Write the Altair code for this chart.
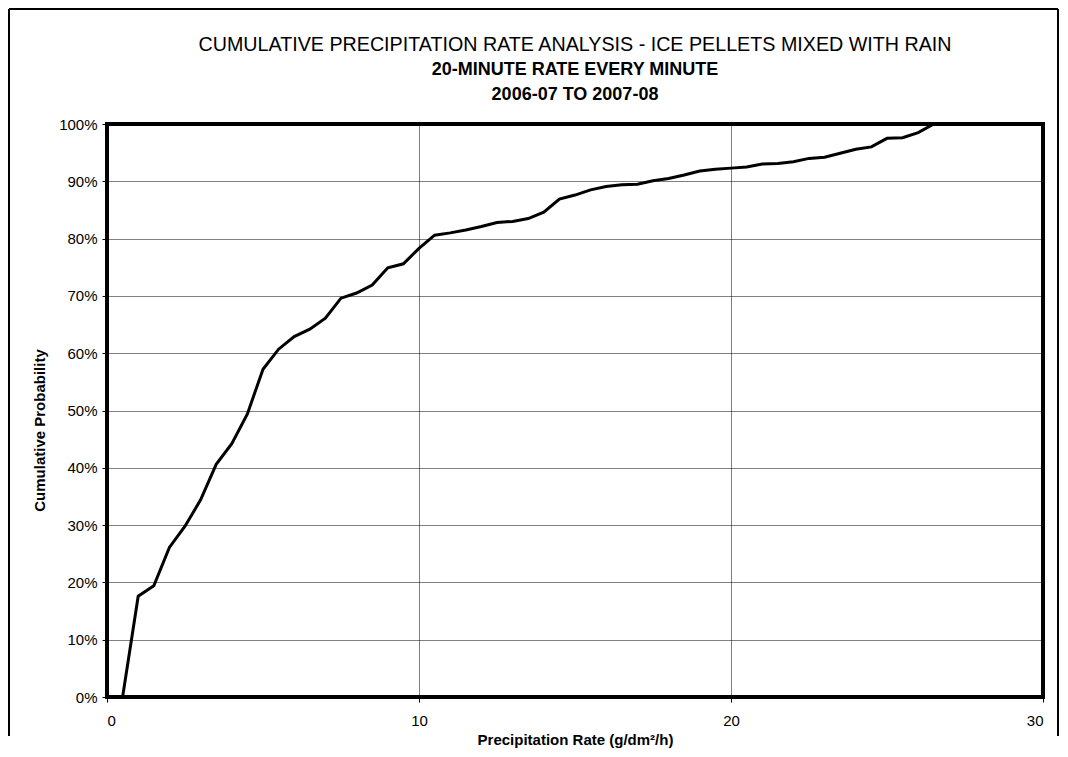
import altair as alt
import pandas as pd

# Precipitation rate (g/dm²/h)
rate = [0.5, 1.0, 1.5, 2.0, 2.5, 3.0, 3.5, 4.0, 4.5, 5.0,
        5.5, 6.0, 6.5, 7.0, 7.5, 8.0, 8.5, 9.0, 9.5, 10.0,
        10.5, 11.0, 11.5, 12.0, 12.5, 13.0, 13.5, 14.0, 14.5, 15.0,
        15.5, 16.0, 16.5, 17.0, 17.5, 18.0, 18.5, 19.0, 19.5, 20.0,
        20.5, 21.0, 21.5, 22.0, 22.5, 23.0, 23.5, 24.0, 24.5, 25.0,
        25.5, 26.0, 26.5]
# Cumulative probability (%)
prob = [0.0, 17.6, 19.4, 26.1, 29.8, 34.4, 40.6, 44.2, 49.4, 57.2,
        60.7, 62.9, 64.2, 66.1, 69.6, 70.5, 71.9, 74.9, 75.6, 78.3,
        80.6, 81.0, 81.5, 82.1, 82.8, 83.0, 83.5, 84.6, 86.9, 87.6,
        88.5, 89.1, 89.4, 89.5, 90.1, 90.5, 91.1, 91.8, 92.1, 92.3,
        92.5, 93.0, 93.1, 93.4, 94.0, 94.2, 94.9, 95.6, 96.0, 97.5,
        97.6, 98.5, 100.0]

x_ticks = [0, 10, 20, 30]
y_ticks = [0, 0.1, 0.2, 0.3, 0.4, 0.5, 0.6, 0.7, 0.8, 0.9, 1.0]

title_lines = [
    "CUMULATIVE PRECIPITATION RATE ANALYSIS - ICE PELLETS MIXED WITH RAIN",
    "20-MINUTE RATE EVERY MINUTE",
    "2006-07 TO 2007-08",
]
title_weights = ["normal", "bold", "bold"]
title_sizes = [19.7, 18, 18]

df = pd.DataFrame({"rate": rate, "prob": [p / 100 for p in prob]})
one = pd.DataFrame({"k": [0]})

FONT = "Liberation Sans"
W, H = 936, 573

line = alt.Chart(df).mark_line(color="black", strokeWidth=3).encode(
    x=alt.X("rate:Q",
            scale=alt.Scale(domain=[0, 30], nice=False),
            axis=alt.Axis(values=x_ticks, title="Precipitation Rate (g/dm²/h)",
                          format="d", labelPadding=11, titlePadding=4)),
    y=alt.Y("prob:Q",
            scale=alt.Scale(domain=[0, 1], nice=False),
            axis=alt.Axis(values=y_ticks, format=".0%", title="Cumulative Probability",
                          titleX=-60, titleY=306, labelPadding=5)),
)

# outer chart-area border (left, top, right); bottom lies outside the picture
border_left = alt.Chart(one).mark_rule(color="black", strokeWidth=2).encode(
    x=alt.value(-98), y=alt.value(-115), y2=alt.value(612))
border_top = alt.Chart(one).mark_rule(color="black", strokeWidth=2).encode(
    x=alt.value(-98), x2=alt.value(951), y=alt.value(-115))
border_right = alt.Chart(one).mark_rule(color="black", strokeWidth=2).encode(
    x=alt.value(951), y=alt.value(-115), y2=alt.value(612))

titles = []
for i, (txt, wt, sz) in enumerate(zip(title_lines, title_weights, title_sizes)):
    titles.append(
        alt.Chart(one).mark_text(
            font=FONT, fontSize=sz, fontWeight=wt, color="black",
            align="center", baseline="middle"
        ).encode(
            x=alt.value(W / 2), y=alt.value(-79 + 25 * i), text=alt.value(txt)
        )
    )

chart = alt.layer(border_left, border_top, border_right, line, *titles).properties(
    width=W, height=H,
    padding={"left": 99, "top": 116, "right": 17, "bottom": 52},
    autosize=alt.AutoSizeParams(type="none"),
    background="white",
).configure_view(
    stroke="black", strokeWidth=4
).configure_axis(
    grid=True, gridColor="black", gridDash=[1, 1], gridWidth=1,
    domain=False, tickColor="black", tickSize=5, tickWidth=1,
    labelFont=FONT, labelFontSize=15, labelColor="black",
    titleFont=FONT, titleFontSize=15, titleFontWeight="bold", titleColor="black",
)

chart.save("out.html", embed_options={"renderer": "svg", "actions": False})
